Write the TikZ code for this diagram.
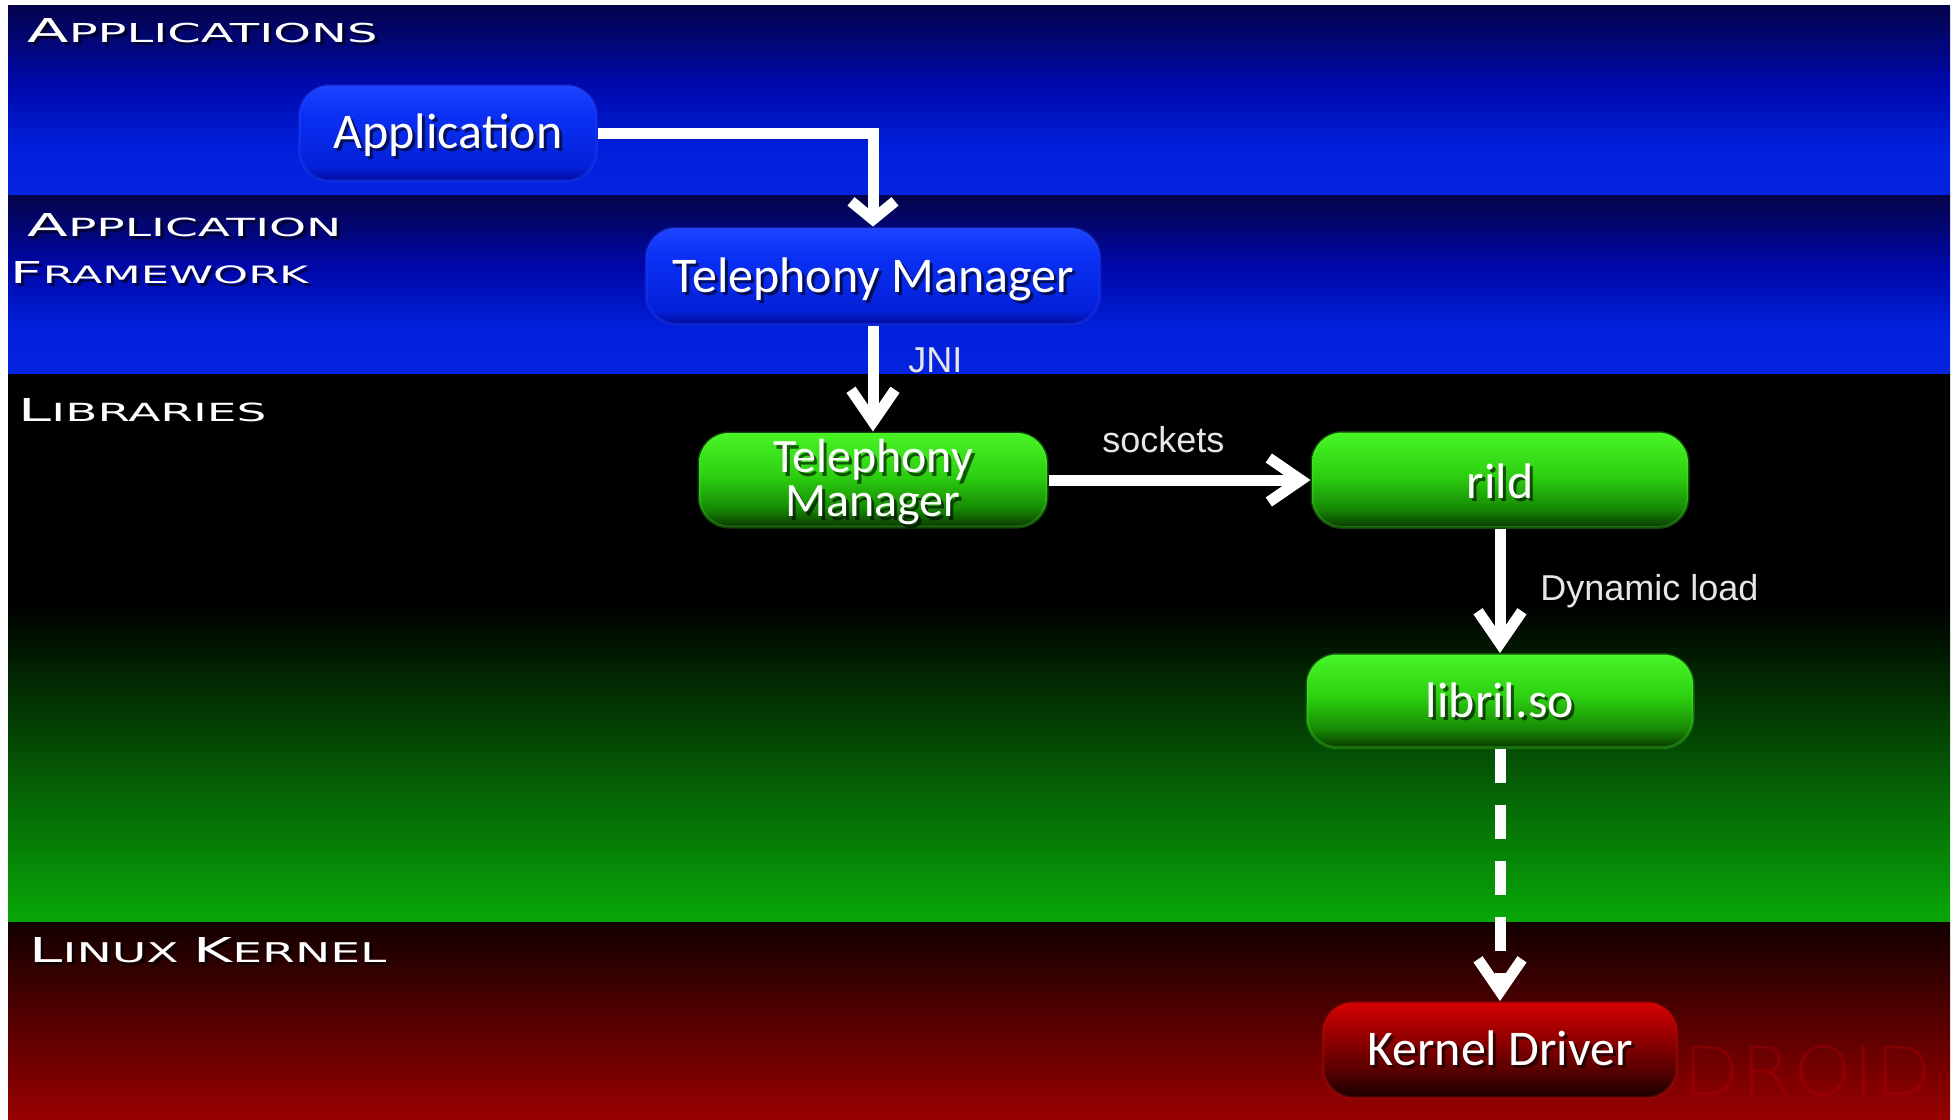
\documentclass[tikz,border=0pt]{standalone}
\usepackage{fontspec}
\usepackage{graphicx}
\usetikzlibrary{arrows.meta,calc}
\newfontfamily\boxfont{Carlito}
\newfontfamily\lblfont{Liberation Sans}
\newfontfamily\layerfont{DejaVu Sans}
\newfontfamily\wmfont{DejaVu Sans ExtraLight}

\definecolor{bandB}{HTML}{0424E0}
\definecolor{bandM1}{HTML}{0020DC}
\definecolor{bandM2}{HTML}{0008A8}
\definecolor{bandT}{HTML}{04044A}
\definecolor{libG}{HTML}{08A808}
\definecolor{kerB}{HTML}{990000}
\definecolor{kerT}{HTML}{120000}
\definecolor{bbB}{HTML}{000C9C}
\definecolor{bbM1}{HTML}{0420D8}
\definecolor{bbM2}{HTML}{0A30F4}
\definecolor{bbT}{HTML}{1C44FF}
\definecolor{gbB}{HTML}{0A3800}
\definecolor{gbM1}{HTML}{168A04}
\definecolor{gbM2}{HTML}{2CCF10}
\definecolor{gbT}{HTML}{48F526}
\definecolor{rbB}{HTML}{1A0000}
\definecolor{rbM1}{HTML}{5A0000}
\definecolor{rbM2}{HTML}{A00000}
\definecolor{rbT}{HTML}{D40000}
\definecolor{glowblue}{HTML}{3050FF}
\definecolor{glowgreen}{HTML}{50FF30}
\definecolor{glowred}{HTML}{E01010}
\definecolor{wmred}{HTML}{E00000}
\definecolor{lbltext}{HTML}{E6E6E6}

\pgfdeclareverticalshading{blueband}{100bp}{color(0bp)=(bandB); color(25bp)=(bandB); color(37.5bp)=(bandM1); color(55bp)=(bandM2); color(75bp)=(bandT); color(100bp)=(bandT)}
\pgfdeclareverticalshading{libband}{100bp}{color(0bp)=(libG); color(25bp)=(libG); color(54bp)=(black); color(75bp)=(black); color(100bp)=(black)}
\pgfdeclareverticalshading{kernband}{100bp}{color(0bp)=(kerB); color(25bp)=(kerB); color(75bp)=(kerT); color(100bp)=(kerT)}
\pgfdeclareverticalshading{blueboxsh}{100bp}{color(0bp)=(bbB); color(25bp)=(bbB); color(32bp)=(bbM1); color(60bp)=(bbM2); color(75bp)=(bbT); color(100bp)=(bbT)}
\pgfdeclareverticalshading{greenboxsh}{100bp}{color(0bp)=(gbB); color(25bp)=(gbB); color(35bp)=(gbM1); color(52bp)=(gbM2); color(75bp)=(gbT); color(100bp)=(gbT)}
\pgfdeclareverticalshading{redboxsh}{100bp}{color(0bp)=(rbB); color(25bp)=(rbB); color(40bp)=(rbM1); color(60bp)=(rbM2); color(75bp)=(rbT); color(100bp)=(rbT)}

\newcommand\lsc[2]{{\fontsize{13}{13}\selectfont #1}{\fontsize{10.3}{10}\selectfont #2}}
\newcommand\shtext[4]{%
  \node[#1, text=black, text opacity=0.6] (#2-sh) at ($(#3)+(3,3.5)$) {#4};
  \node[#1, text=white] (#2) at (#3) {#4};}

\tikzset{
  box/.style={rounded corners=15pt, inner sep=0pt, line width=1.5pt, draw opacity=0.25, shade},
  bluebox/.style={box, shading=blueboxsh, draw=glowblue},
  greenbox/.style={box, shading=greenboxsh, draw=glowgreen},
  redbox/.style={box, shading=redboxsh, draw=glowred},
  boxtext/.style={inner sep=0pt, anchor=base, font=\boxfont\fontsize{25}{21}\selectfont},
  layertext/.style={inner sep=0pt, anchor=base west},
  conn/.style={draw=white, line width=5.5pt, -{Straight Barb[length=16pt,width=22pt]}},
  shortconn/.style={draw=white, line width=5.5pt, -{Straight Barb[length=9pt,width=22pt]}},
  dashconn/.style={conn, dash pattern=on 17pt off 11pt},
  conlabel/.style={inner sep=0pt, anchor=base west, text=lbltext, font=\lblfont\fontsize{18}{18}\selectfont}
}

\begin{document}
\begin{tikzpicture}[x=0.5pt,y=-0.5pt]
\useasboundingbox (0,0) rectangle (1956,1120);
\fill[white] (0,0) rectangle (1956,1120);
% bands
\shade[shading=blueband] (8,5) rectangle (1950,195);
\shade[shading=blueband] (8,195) rectangle (1950,374);
\shade[shading=libband] (8,374) rectangle (1950,922);
\shade[shading=kernband] (8,922) rectangle (1950,1120);

% watermark
\node[inner sep=0pt, anchor=base east, text=wmred, text opacity=0.22] (wm) at (1933,1095) {\resizebox{125pt}{25pt}{\wmfont DROID}};

% layer labels
\shtext{layertext}{lapps}{27,42}{\resizebox{175pt}{12pt}{\layerfont\lsc{A}{PPLICATIONS}}}
\shtext{layertext}{lfw1}{27,236}{\resizebox{157pt}{11.5pt}{\layerfont\lsc{A}{PPLICATION}}}
\shtext{layertext}{lfw2}{10,283}{\resizebox{149pt}{11pt}{\layerfont\lsc{F}{RAMEWORK}}}
\shtext{layertext}{llib}{18,421}{\resizebox{124pt}{11.5pt}{\layerfont\lsc{L}{IBRARIES}}}
\shtext{layertext}{lker}{29,962}{\resizebox{178.5pt}{12.5pt}{\layerfont\lsc{L}{INUX}\ \lsc{K}{ERNEL}}}

% boxes
\node[bluebox, minimum width=148.5pt, minimum height=47.5pt] (app) at (448,133) {};
\node[bluebox, minimum width=227pt, minimum height=48pt] (tmf) at (873,276) {};
\node[greenbox, minimum width=174pt, minimum height=47pt] (tml) at (873,480) {};
\node[greenbox, minimum width=188pt, minimum height=47.5pt] (rild) at (1500,480) {};
\node[greenbox, minimum width=193pt, minimum height=46.5pt] (libril) at (1500,701) {};
\node[redbox, minimum width=177pt, minimum height=47.5pt] (kern) at (1500,1050) {};

% box texts
\shtext{boxtext}{appT}{448,148}{Application}
\shtext{boxtext}{tmfT}{873,292}{Telephony Manager}
\shtext{boxtext, anchor=center, align=center, font=\boxfont\fontsize{24}{22}\selectfont}{tmlT}{873,482}{Telephony\\Manager}
\shtext{boxtext}{rildT}{1500,498}{rild}
\shtext{boxtext}{librilT}{1500,717}{libril.so}
\shtext{boxtext}{kernT}{1500,1065}{Kernel Driver}

% connectors
\draw[shortconn] (app.east) -| (tmf.north);
\draw[conn] (tmf.south) -- (tml.north);
\draw[conn] (tml.east) -- (rild.west);
\draw[conn] (rild.south) -- (libril.north);
\draw[dashconn] (libril.south) -- (kern.north);

% connector labels
\node[conlabel] (jni) at (908,372) {JNI};
\node[conlabel] (sock) at (1102,452) {sockets};
\node[conlabel] (dyn) at (1540,600) {Dynamic load};
\end{tikzpicture}
\end{document}
